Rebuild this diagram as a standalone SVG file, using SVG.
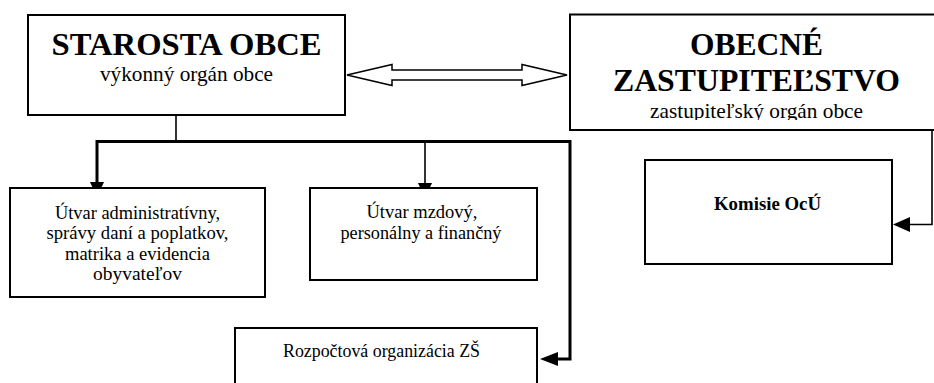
<svg xmlns="http://www.w3.org/2000/svg" width="934" height="383" viewBox="0 0 934 383">
<style>
.box{fill:#fff;stroke:#000;stroke-width:2}
text{font-family:'Liberation Serif','DejaVu Serif','Times New Roman',serif;fill:#000;text-anchor:middle}
.big{font-size:32px;font-weight:bold}
.sub{font-size:21px}
.sm{font-size:18px}
.smb{font-size:18.67px;font-weight:bold}
.thin{fill:none;stroke:#000;stroke-width:1.6}
.thick{fill:none;stroke:#000;stroke-width:3}
</style>
<defs>
<clipPath id="clipZ"><rect x="570" y="95" width="364" height="25"/></clipPath>
</defs>
<rect width="934" height="383" fill="#fff"/>
<g id="connectors">
<polygon points="347,75 392,64.5 392,70 522,70 522,64.5 567,75 522,85.5 522,80 392,80 392,85.5" fill="#fff" stroke="#000" stroke-width="1.5"/>
<line class="thin" x1="176" y1="115" x2="176" y2="143"/>
<polyline class="thick" points="97,186 97,141.5 570,141.5 570,359 556,359"/>
<polygon points="90,182 104,182 97,197"/>
<line class="thin" x1="425" y1="141.5" x2="425" y2="186"/>
<polygon points="418,183 432,183 425,198"/>
<polygon points="558,352 558,366 540,359"/>
<polyline class="thin" points="932,130 932,224.5 908,224.5"/>
<polygon points="910,217 910,232 893,224.5"/>
</g>
<g id="starosta">
<rect class="box" x="28" y="15" width="317" height="100"/>
<text class="big" x="186.5" y="55" textLength="270" lengthAdjust="spacingAndGlyphs">STAROSTA OBCE</text>
<text class="sub" x="186.5" y="81" textLength="173" lengthAdjust="spacingAndGlyphs">výkonný orgán obce</text>
</g>
<g id="zastupitelstvo">
<rect class="box" x="570" y="14.5" width="373" height="115.5"/>
<text class="big" x="756.5" y="55" textLength="133" lengthAdjust="spacingAndGlyphs">OBECNÉ</text>
<text class="big" x="756.5" y="91" textLength="287" lengthAdjust="spacingAndGlyphs">ZASTUPITEĽSTVO</text>
<text class="sub" x="756.5" y="118" clip-path="url(#clipZ)" textLength="213" lengthAdjust="spacingAndGlyphs">zastupiteľský orgán obce</text>
</g>
<g id="utvar-admin">
<rect class="box" x="10" y="188" width="255" height="109"/>
<text class="sm" x="137.5" y="218.5" textLength="165" lengthAdjust="spacingAndGlyphs">Útvar administratívny,</text>
<text class="sm" x="137.5" y="239" textLength="182" lengthAdjust="spacingAndGlyphs">správy daní a poplatkov,</text>
<text class="sm" x="137.5" y="259.5" textLength="145" lengthAdjust="spacingAndGlyphs">matrika a evidencia</text>
<text class="sm" x="137.5" y="280" textLength="89" lengthAdjust="spacingAndGlyphs">obyvateľov</text>
</g>
<g id="utvar-mzdovy">
<rect class="box" x="310" y="188" width="227" height="92"/>
<text class="sm" x="422" y="218" textLength="111" lengthAdjust="spacingAndGlyphs">Útvar mzdový,</text>
<text class="sm" x="421" y="239" textLength="161" lengthAdjust="spacingAndGlyphs">personálny a finančný</text>
</g>
<g id="rozpoctova">
<rect class="box" x="235" y="328" width="302" height="70"/>
<text class="sm" x="381.5" y="357" textLength="197" lengthAdjust="spacingAndGlyphs">Rozpočtová organizácia ZŠ</text>
</g>
<g id="komisie">
<rect class="box" x="645" y="160" width="247" height="104"/>
<text class="smb" x="767.5" y="210" textLength="107" lengthAdjust="spacingAndGlyphs">Komisie OcÚ</text>
</g>
</svg>
